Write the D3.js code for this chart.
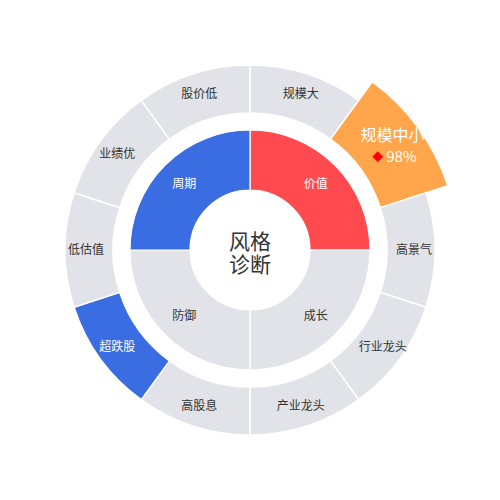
<!DOCTYPE html>
<html>
<head>
<meta charset="utf-8">
<script src="https://cdn.jsdelivr.net/npm/d3@7"></script>
<style>
  body { margin: 0; background: #fff; }
  svg text { font-family: "Noto Sans CJK SC", "Noto Sans", sans-serif; }
</style>
</head>
<body>
<div id="chart"></div>
<script>
var innerLabels = ["价值", "成长", "防御", "周期"];
var innerColors = ["#ff4b50", "#e2e3e8", "#e2e3e8", "#3b6de2"];
var outerLabels = ["规模大", "规模中小", "高景气", "行业龙头", "产业龙头", "高股息", "超跌股", "低估值", "业绩优", "股价低"];
var outerColors = ["#e2e3e8", "#ffa54b", "#e2e3e8", "#e2e3e8", "#e2e3e8", "#e2e3e8", "#3b6de2", "#e2e3e8", "#e2e3e8", "#e2e3e8"];
var highlight = "规模中小";
var highlightValue = "98%";
var centerLines = ["风格", "诊断"];

var width = 500, height = 500;
var svg = d3.select("#chart").append("svg")
  .attr("width", width).attr("height", height);
var g = svg.append("g").attr("transform", "translate(250,250)");

var pie = d3.pie().value(function() { return 1; }).sort(null);

// inner ring
var innerArc = d3.arc().innerRadius(60).outerRadius(120);
var innerData = pie(innerLabels);
g.selectAll(".inner").data(innerData).enter().append("path")
  .attr("d", innerArc)
  .attr("fill", function(d, i) { return innerColors[i]; })
  .attr("stroke", "#fff").attr("stroke-width", 1.2);

var innerLabelArc = d3.arc().innerRadius(93).outerRadius(93);
g.selectAll(".innerText").data(innerData).enter().append("text")
  .attr("transform", function(d) { return "translate(" + innerLabelArc.centroid(d) + ")"; })
  .attr("text-anchor", "middle").attr("dy", "0.35em")
  .attr("font-size", 12)
  .attr("fill", function(d, i) { return innerColors[i] === "#e2e3e8" ? "#333" : "#fff"; })
  .text(function(d) { return d.data; });

// outer ring
var outerData = pie(outerLabels);
var outerArc = d3.arc().innerRadius(137)
  .outerRadius(function(d) { return d.data === highlight ? 208 : 185; });
g.selectAll(".outer").data(outerData).enter().append("path")
  .attr("d", outerArc)
  .attr("fill", function(d, i) { return outerColors[i]; })
  .attr("stroke", "#fff").attr("stroke-width", 1.5);

var outerLabelArc = d3.arc().innerRadius(164).outerRadius(164);
var hlArc = d3.arc().innerRadius(176).outerRadius(176);
outerData.forEach(function(d, i) {
  if (d.data === highlight) {
    var c = hlArc.centroid(d);
    g.append("text").attr("x", c[0]).attr("y", c[1] - 6)
      .attr("text-anchor", "middle").attr("font-size", 16).attr("fill", "#fff")
      .text(d.data);
    var t = g.append("text").attr("x", c[0] + 2).attr("y", c[1] + 15)
      .attr("text-anchor", "middle").attr("font-size", 15).attr("fill", "#fff");
    t.append("tspan").attr("fill", "#f00").attr("font-size", 11).attr("dy", -1).text("◆");
    t.append("tspan").attr("dx", 3).attr("dy", 1).text(highlightValue);
  } else {
    var p = outerLabelArc.centroid(d);
    g.append("text").attr("x", p[0]).attr("y", p[1])
      .attr("text-anchor", "middle").attr("dy", "0.35em").attr("font-size", 12)
      .attr("fill", outerColors[i] === "#e2e3e8" ? "#333" : "#fff")
      .text(d.data);
  }
});

// center
g.append("circle").attr("r", 60).attr("fill", "#fff");
g.selectAll(".center").data(centerLines).enter().append("text")
  .attr("text-anchor", "middle")
  .attr("y", function(d, i) { return i * 23 - 1; })
  .attr("font-size", 21).attr("fill", "#333")
  .text(function(d) { return d; });
</script>
</body>
</html>
